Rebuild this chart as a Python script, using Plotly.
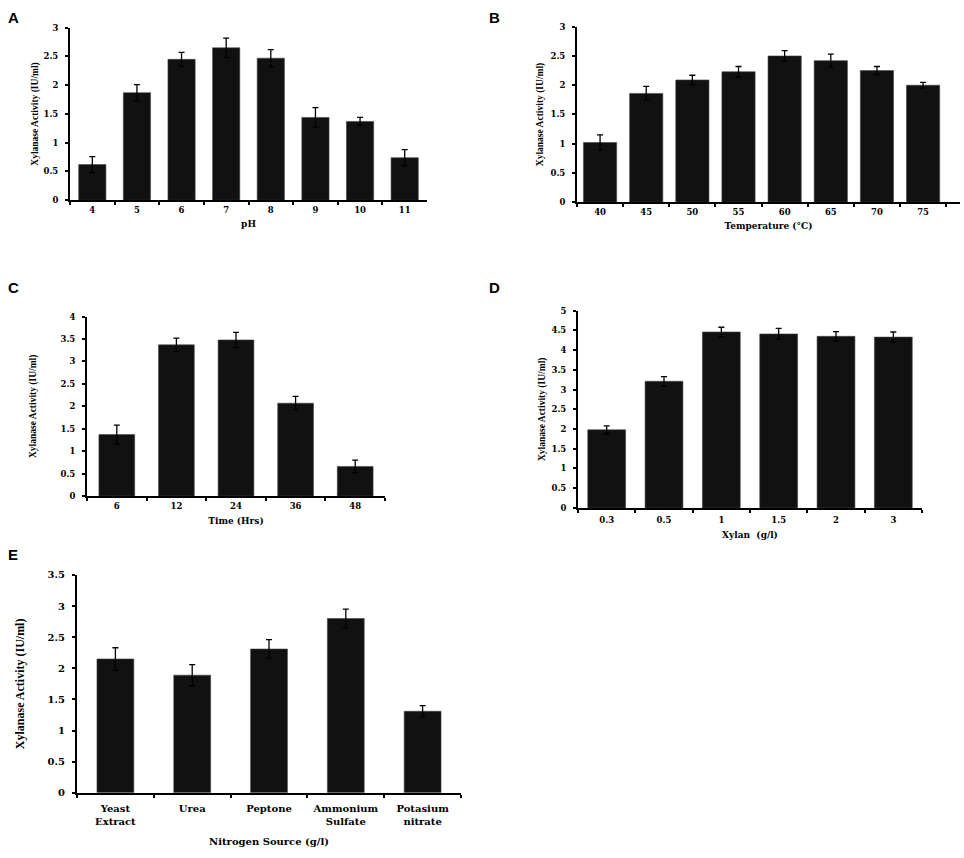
import plotly.graph_objects as go

# A: pH
ph_cats = ['4', '5', '6', '7', '8', '9', '10', '11']
ph_vals = [0.62, 1.87, 2.45, 2.65, 2.47, 1.44, 1.37, 0.74]
ph_err = [0.14, 0.14, 0.12, 0.17, 0.15, 0.17, 0.07, 0.14]

# B: temperature
temp_cats = ['40', '45', '50', '55', '60', '65', '70', '75']
temp_vals = [1.02, 1.86, 2.09, 2.23, 2.50, 2.42, 2.25, 2.00]
temp_err = [0.13, 0.12, 0.08, 0.09, 0.09, 0.11, 0.07, 0.05]

# C: time
time_cats = ['6', '12', '24', '36', '48']
time_vals = [1.37, 3.37, 3.48, 2.07, 0.66]
time_err = [0.21, 0.15, 0.17, 0.15, 0.14]

# D: xylan
xylan_cats = ['0.3', '0.5', '1', '1.5', '2', '3']
xylan_vals = [1.98, 3.21, 4.46, 4.41, 4.35, 4.33]
xylan_err = [0.10, 0.12, 0.12, 0.14, 0.12, 0.13]

# E: nitrogen source
nitro_cats = ['Yeast<br>Extract', 'Urea', 'Peptone', 'Ammonium<br>Sulfate', 'Potasium<br>nitrate']
nitro_vals = [2.15, 1.89, 2.31, 2.80, 1.31]
nitro_err = [0.18, 0.17, 0.15, 0.15, 0.09]

W, H = 964, 858
TICK_FONT = 'DejaVu Serif'
YT_FONT = 'Liberation Serif'
YTITLE = 'Xylanase Activity (IU/ml)'


def px_x(a, b):
    return [a / W, b / W]


def px_y(top, bottom):
    return [1 - bottom / H, 1 - top / H]


# name, cats, vals, err, xdomain(px), ydomain(px), ymax, xtitle, bar width,
# tick size, x title size, y title size, xrange, y title standoff,
# x tick label standoff, x title standoff
panels = [
    ('A', ph_cats, ph_vals, ph_err, (70, 427), (22, 197), 3, 'pH', 0.61, 8.5, 9, 9.5, None, 3, 1, 6),
    ('B', temp_cats, temp_vals, temp_err, (577, 960), (21, 199), 3, 'Temperature (°C)', 0.72, 8.5, 9, 9.5, [-0.5, 7.8], 5, 1, 6),
    ('C', time_cats, time_vals, time_err, (87, 385), (315, 497), 4, 'Time (Hrs)', 0.6, 8.5, 9, 9.5, None, 22, 1, 7),
    ('D', xylan_cats, xylan_vals, xylan_err, (578, 922), (309, 509), 5, 'Xylan  (g/l)', 0.66, 8.5, 9, 9.5, None, 4, 3, 8),
    ('E', nitro_cats, nitro_vals, nitro_err, (77, 461), (577, 798), 3.5, 'Nitrogen Source (g/l)', 0.48, 10, 10, 12, None, 20, 5, 12),
]

letter_pos = {'A': (6, 1), 'B': (487, 1), 'C': (6, 275), 'D': (487, 275), 'E': (6, 546)}

fig = go.Figure()
layout = {}
for i, (name, cats, vals, err, xd, yd, ymax, xtitle, bw, tfs, xfs, yfs, xr, ystand, xlstand, xstand) in enumerate(panels):
    n = '' if i == 0 else str(i + 1)
    fig.add_trace(go.Bar(
        x=cats, y=vals,
        error_y=dict(type='data', array=err, color='black', thickness=1.3, width=3),
        marker=dict(color='#111111', line=dict(color='#444444', width=0.6)),
        width=bw,
        xaxis='x' + n, yaxis='y' + n,
        showlegend=False,
    ))
    tickfont = dict(family=TICK_FONT, size=tfs, color='black', weight='bold')
    layout['xaxis' + n] = dict(
        domain=px_x(*xd), anchor='y' + n,
        type='category', range=xr if xr else [-0.5, len(cats) - 0.5],
        showline=True, linecolor='black', linewidth=2,
        ticks='outside', tickson='boundaries', ticklen=3, tickwidth=2, tickcolor='black',
        tickangle=0, ticklabelstandoff=xlstand,
        showgrid=False, tickfont=tickfont,
        title=dict(text=xtitle, font=dict(family=TICK_FONT, size=xfs, color='black', weight='bold'),
                   standoff=xstand),
    )
    layout['yaxis' + n] = dict(
        domain=px_y(*yd), anchor='x' + n,
        range=[0, ymax], dtick=0.5,
        showline=True, linecolor='black', linewidth=2,
        ticks='outside', ticklen=3, tickwidth=2, tickcolor='black',
        ticklabelstandoff=5,
        showgrid=False, zeroline=False, tickfont=tickfont,
        title=dict(text=YTITLE, font=dict(family=YT_FONT, size=yfs, color='black', weight='bold'),
                   standoff=ystand),
    )

annotations = []
for k, (lx, ly) in letter_pos.items():
    annotations.append(dict(
        text=k, x=lx / W, y=1 - ly / H, xref='paper', yref='paper',
        xanchor='left', yanchor='top', showarrow=False,
        font=dict(family='Liberation Sans', size=15, color='black', weight='bold'),
    ))

fig.update_layout(
    width=W, height=H,
    margin=dict(l=0, r=0, t=0, b=0),
    paper_bgcolor='white', plot_bgcolor='white',
    annotations=annotations,
    bargap=0.4,
    **layout,
)

fig.write_html("out.html", config={'displayModeBar': False},
               post_script="document.body.style.margin='0';document.body.style.overflow='hidden';")
